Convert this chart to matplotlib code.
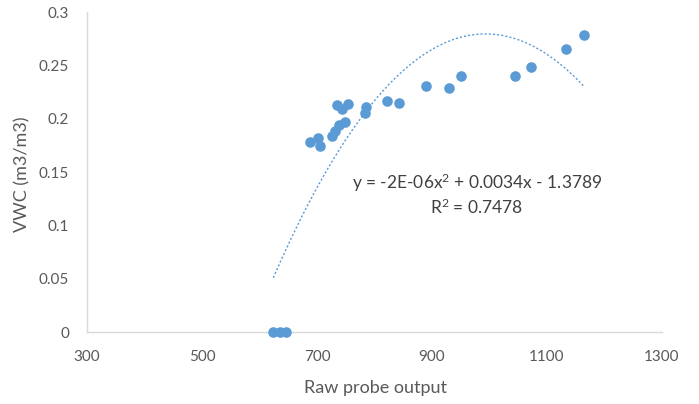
import numpy as np
import matplotlib
matplotlib.use("Agg")
import matplotlib.pyplot as plt

# valores
raw_output = [624, 636, 646, 688, 702, 705, 726, 731, 739, 749, 734, 743, 754,
              784, 786, 821, 843, 890, 929, 950, 1044, 1073, 1133, 1165]
vwc = [0, 0, 0, 0.178, 0.1816, 0.1744, 0.1838, 0.189, 0.194, 0.197, 0.2128,
       0.209, 0.2138, 0.2055, 0.2106, 0.2166, 0.2147, 0.2303, 0.2287, 0.240,
       0.2403, 0.2484, 0.265, 0.2784]
x_ticks = [300, 500, 700, 900, 1100, 1300]
y_ticks = [0, 0.05, 0.1, 0.15, 0.2, 0.25, 0.3]
y_ticklabels = ["0", "0.05", "0.1", "0.15", "0.2", "0.25", "0.3"]
eq_text = "y = -2E-06x$^{2}$ + 0.0034x - 1.3789"
r2_text = "R$^{2}$ = 0.7478"

azul = "#5B9BD5"
cinza = "#595959"

plt.rcParams["font.family"] = ["Lato", "DejaVu Sans"]
plt.rcParams["mathtext.default"] = "regular"

fig = plt.figure(figsize=(6.99, 4.04), dpi=100)
ax = fig.add_axes([0.1245, 0.178, 0.8225, 0.792])

ax.scatter(raw_output, vwc, s=58, color=azul, zorder=3, clip_on=False,
           linewidths=0)

# linha de tendencia polinomial (ordem 2)
coef = np.polyfit(raw_output, vwc, 2)
xs = np.linspace(min(raw_output), max(raw_output), 200)
ax.plot(xs, np.polyval(coef, xs), linestyle=(0, (1.5, 1.5)), color=azul,
        linewidth=1.0, zorder=2)

ax.set_xlim(300, 1300)
ax.set_ylim(0, 0.3)
ax.set_xticks(x_ticks)
ax.set_yticks(y_ticks)
ax.set_yticklabels(y_ticklabels)
ax.tick_params(length=0, colors=cinza, labelsize=11)
ax.tick_params(axis="x", pad=13)
ax.tick_params(axis="y", pad=13)

for s in ["top", "right"]:
    ax.spines[s].set_visible(False)
for s in ["left", "bottom"]:
    ax.spines[s].set_color("#D9D9D9")
    ax.spines[s].set_linewidth(1.0)

ax.set_xlabel("Raw probe output", color=cinza, fontsize=13, va="center")
ax.set_ylabel("VWC (m3/m3)", color=cinza, fontsize=13, va="center")
ax.xaxis.set_label_coords(0.501, -0.175)
ax.yaxis.set_label_coords(-0.113, 0.492)

fig.text(0.503, 0.547, eq_text, ha="left", va="center", color="#404040",
         fontsize=12.5)
fig.text(0.682, 0.488, r2_text, ha="center", va="center", color="#404040",
         fontsize=12.5)

fig.savefig("out.png", dpi=100)
